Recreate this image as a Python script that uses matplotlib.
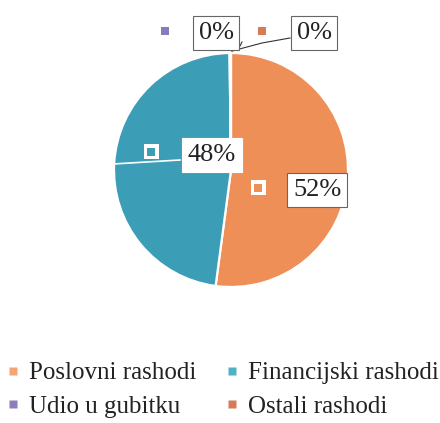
import matplotlib
matplotlib.use("Agg")
import matplotlib.pyplot as plt
from matplotlib.patches import Rectangle
from matplotlib.lines import Line2D

categories = ["Poslovni rashodi", "Financijski rashodi", "Udio u gubitku", "Ostali rashodi"]
values = [52.1, 47.7, 0.1, 0.1]
slice_colors = ["#EF8F58", "#3C9EB6", "#8A7BBE", "#D77A58"]
legend_colors = ["#F5A474", "#4FB1C6", "#8D7DBD", "#D5795A"]

FONT = ["Liberation Serif", "DejaVu Serif"]

fig = plt.figure(figsize=(4.40, 4.23), dpi=100)
R = 117
cx, cy = 231, 170
W, H = 440, 423
ax = fig.add_axes([(cx - R) / W, (H - cy - R) / H, 2 * R / W, 2 * R / H])
ax.pie(values, colors=slice_colors, startangle=90, counterclock=False,
       wedgeprops=dict(edgecolor="white", linewidth=1.6))
ax.set_xlim(-1, 1)
ax.set_ylim(-1, 1)
ax.set_aspect("equal")
ax.axis("off")

def px(x, y):
    return ((x - cx) / R, (cy - y) / R)

# label positions (pixel coords in figure): text center, key square
label_pos = {
    0: ((317, 190), (258, 188)),
    1: ((212, 155), (151, 152)),
    2: ((216, 33), (165, 31)),
    3: ((314, 33), (262, 31)),
}

# leader lines for tiny slices
ax.plot(*zip(px(232, 51), px(240, 46), px(242, 42)), color="#333333", lw=0.8, clip_on=False)
ax.plot(*zip(px(232, 51), px(262, 43), px(290, 38)), color="#333333", lw=0.8, clip_on=False)
ax.plot(*zip(px(113, 164), px(180, 160)), color="white", lw=1.2, clip_on=False)

for i, v in enumerate(values):
    (tx, ty), (sx, sy) = label_pos[i]
    x, y = px(tx, ty)
    ax.text(x, y, f"{v:.0f}%", ha="center", va="center", fontsize=19, family=FONT,
            color="#222222", clip_on=False, zorder=5,
            bbox=dict(boxstyle="square,pad=0.22", fc="white",
                      ec="#666666" if i != 1 else "white", lw=0.8))
    qx, qy = px(sx, sy)
    s = 10 / R
    if i in (0, 1):
        ax.add_patch(Rectangle((qx - s / 2 - 2.5 / R, qy - s / 2 - 2.5 / R), s + 5 / R, s + 5 / R,
                               fc="white", ec="none", zorder=5, clip_on=False))
    ax.add_patch(Rectangle((qx - s / 2 * 0.75, qy - s / 2 * 0.75), s * 0.75, s * 0.75,
                           fc=slice_colors[i], ec="none", zorder=6, clip_on=False))

order = [0, 2, 1, 3]
handles = [Line2D([], [], marker="s", linestyle="none", markersize=6,
                  markerfacecolor=legend_colors[i], markeredgecolor="none") for i in order]
labels = [categories[i] for i in order]
fig.legend(handles, labels, loc="lower left", bbox_to_anchor=(-0.016, -0.018),
           ncol=2, frameon=False, prop=dict(family=FONT, size=18),
           handlelength=0.6, handletextpad=0.35, columnspacing=1.12,
           labelspacing=0.45, borderaxespad=0.1, labelcolor="#222222")

fig.savefig("out.png", dpi=100, facecolor="white")
